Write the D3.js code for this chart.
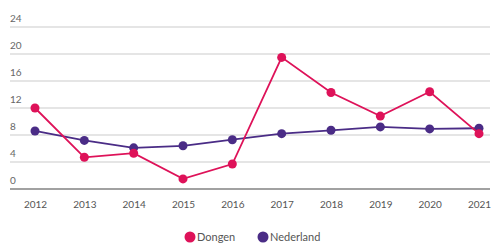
<!DOCTYPE html>
<html>
<head>
<meta charset="utf-8">
<script src="https://cdn.jsdelivr.net/npm/d3@7"></script>
<style>
  body { margin: 0; background: #fff; }
  svg text { font-family: Lato, "Open Sans", sans-serif; }
</style>
</head>
<body>
<script>
// data
var years = ["2012", "2013", "2014", "2015", "2016", "2017", "2018", "2019", "2020", "2021"];
var dongen = [12.0, 4.7, 5.3, 1.5, 3.7, 19.5, 14.3, 10.8, 14.4, 8.2];
var nederland = [8.6, 7.2, 6.1, 6.4, 7.3, 8.2, 8.7, 9.2, 8.9, 9.0];
var yTicks = [0, 4, 8, 12, 16, 20, 24];
var seriesNames = ["Dongen", "Nederland"];
var colors = ["#de1259", "#4a2c86"];

var width = 499, height = 244;

var svg = d3.select("body").append("svg")
  .attr("width", width)
  .attr("height", height);

// scales
var x = d3.scalePoint().domain(years).range([35, 479]);
var y = d3.scaleLinear().domain([0, 24]).range([189, 27]);

// gridlines + y labels
var grid = svg.append("g");
grid.selectAll("line")
  .data(yTicks.filter(function(d) { return d > 0; }))
  .enter().append("line")
  .attr("x1", 10).attr("x2", 490)
  .attr("y1", function(d) { return y(d); })
  .attr("y2", function(d) { return y(d); })
  .style("stroke", "#dcdcdc")
  .style("stroke-width", 1.5);

grid.selectAll("text")
  .data(yTicks)
  .enter().append("text")
  .attr("x", 10)
  .attr("y", function(d) { return y(d) - 5; })
  .style("font-size", "10px")
  .style("fill", "#666")
  .text(function(d) { return d; });

// baseline
svg.append("line")
  .attr("x1", 10).attr("x2", 490)
  .attr("y1", y(0)).attr("y2", y(0))
  .style("stroke", "#444")
  .style("stroke-width", 1.2);

// x axis labels
var xAxis = d3.axisBottom(x).tickSize(0).tickPadding(12);
var gx = svg.append("g")
  .attr("transform", "translate(0," + y(0) + ")")
  .call(xAxis);
gx.select(".domain").remove();
gx.selectAll("text")
  .style("font-size", "10px")
  .style("fill", "#555")
  .style("font-family", "Lato, 'Open Sans', sans-serif");

// lines
var line = d3.line()
  .x(function(d, i) { return x(years[i]); })
  .y(function(d) { return y(d); });

var allSeries = [dongen, nederland];

// draw Nederland first, then Dongen on top
[1, 0].forEach(function(s) {
  var g = svg.append("g");
  g.append("path")
    .datum(allSeries[s])
    .attr("d", line)
    .style("fill", "none")
    .style("stroke", colors[s])
    .style("stroke-width", 1.8);
  g.selectAll("circle")
    .data(allSeries[s])
    .enter().append("circle")
    .attr("cx", function(d, i) { return x(years[i]); })
    .attr("cy", function(d) { return y(d); })
    .attr("r", 4.5)
    .style("fill", colors[s]);
});

// legend
var legend = svg.append("g").attr("transform", "translate(190,237)");
var legendX = [0, 73];
seriesNames.forEach(function(name, i) {
  legend.append("circle")
    .attr("cx", legendX[i]).attr("cy", 0)
    .attr("r", 5.5)
    .style("fill", colors[i]);
  legend.append("text")
    .attr("x", legendX[i] + 7).attr("y", 4)
    .style("font-size", "11px")
    .style("fill", "#555")
    .text(name);
});
</script>
</body>
</html>
